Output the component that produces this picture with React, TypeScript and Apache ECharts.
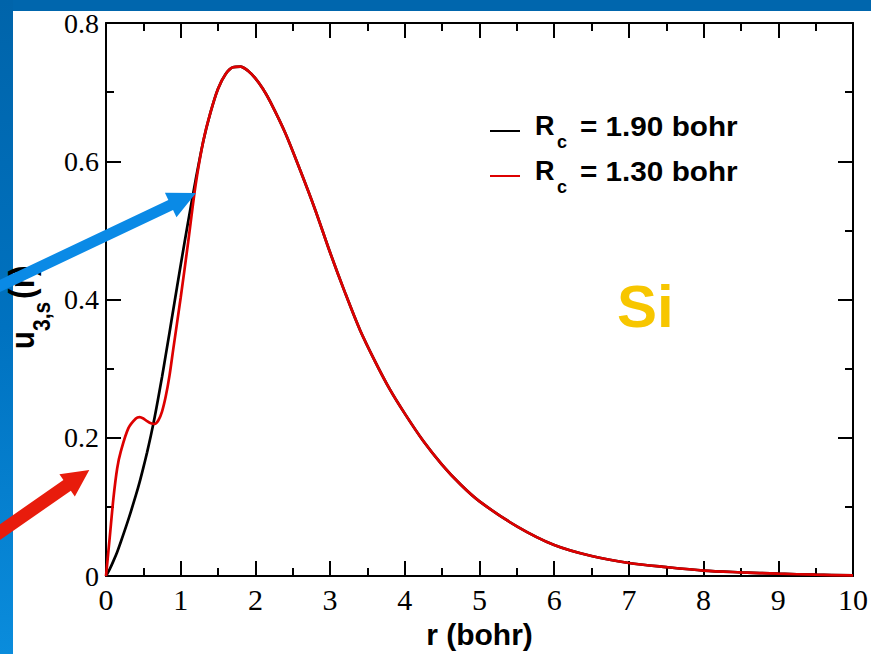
import React, { useEffect, useRef } from "react";
import * as echarts from "echarts";

// Radial grid (bohr) where the two pseudo-wavefunctions differ
const R_CORE = [0, 0.05, 0.1, 0.15, 0.2, 0.3, 0.4, 0.45, 0.5, 0.55, 0.6, 0.65, 0.7, 0.75, 0.8, 0.85, 0.9, 1.0, 1.1, 1.2];
// u_3s(r) inside the core, Rc = 1.90 bohr
const U_CORE_RC190 = [0, 0.010, 0.022, 0.035, 0.050, 0.082, 0.117, 0.136, 0.157, 0.179, 0.203, 0.229, 0.258, 0.288, 0.320, 0.352, 0.385, 0.450, 0.513, 0.573];
// u_3s(r) inside the core, Rc = 1.30 bohr
const U_CORE_RC130 = [0, 0.056, 0.113, 0.156, 0.181, 0.214, 0.228, 0.230, 0.228, 0.224, 0.221, 0.220, 0.225, 0.238, 0.260, 0.290, 0.328, 0.403, 0.483, 0.566];
// Shared tail, both curves coincide here
const R_TAIL = [1.3, 1.4, 1.5, 1.6, 1.7, 1.8, 1.9, 2.0, 2.1, 2.2, 2.4, 2.6, 2.8, 3.0, 3.2, 3.4, 3.6, 3.8, 4.0, 4.25, 4.5, 4.75, 5.0, 5.5, 6.0, 6.5, 7.0, 7.5, 8.0, 8.5, 9.0, 9.5, 10];
const U_TAIL = [0.628, 0.671, 0.705, 0.726, 0.736, 0.737, 0.731, 0.720, 0.705, 0.686, 0.641, 0.587, 0.530, 0.468, 0.410, 0.356, 0.311, 0.270, 0.235, 0.195, 0.161, 0.132, 0.108, 0.072, 0.045, 0.029, 0.019, 0.013, 0.008, 0.0055, 0.0035, 0.002, 0.001];

const SERIES = [
  { name: "Rc = 1.90 bohr", core: U_CORE_RC190, color: "#000000" },
  { name: "Rc = 1.30 bohr", core: U_CORE_RC130, color: "#dd0000" },
];

const X_MIN = 0, X_MAX = 10, X_STEP = 1;
const Y_MIN = 0, Y_MAX = 0.8, Y_STEP = 0.2;

const SANS = "'Liberation Sans', Arial, sans-serif";
const SERIF = "'Liberation Serif', 'Times New Roman', serif";

function toPoints(core: number[]): number[][] {
  const pts: number[][] = R_CORE.map((r, i) => [r, core[i]]);
  R_TAIL.forEach((r, i) => pts.push([r, U_TAIL[i]]));
  return pts;
}

// Block arrow outline: shaft of given width plus triangular head
function arrowPoints(tail: number[], tip: number[], shaft: number, headLen: number, headHalf: number) {
  const dx = tip[0] - tail[0];
  const dy = tip[1] - tail[1];
  const len = Math.hypot(dx, dy);
  const ux = dx / len, uy = dy / len;
  const nx = -uy, ny = ux;
  const bx = tip[0] - ux * headLen, by = tip[1] - uy * headLen;
  const h = shaft / 2;
  return [
    [tail[0] + nx * h, tail[1] + ny * h],
    [bx + nx * h, by + ny * h],
    [bx + nx * headHalf, by + ny * headHalf],
    [tip[0], tip[1]],
    [bx - nx * headHalf, by - ny * headHalf],
    [bx - nx * h, by - ny * h],
    [tail[0] - nx * h, tail[1] - ny * h],
  ];
}

function txt(x: number, y: number, text: string, size: number, fill: string, extra: any = {}, styleExtra: any = {}) {
  return {
    type: "text",
    x,
    y,
    z: 50,
    ...extra,
    style: {
      text,
      fill,
      fontSize: size,
      fontWeight: "bold",
      fontFamily: SANS,
      align: "left",
      verticalAlign: "middle",
      textAlign: "left",
      textVerticalAlign: "middle",
      ...styleExtra,
    },
  };
}

export default function App() {
  const ref = useRef<HTMLDivElement>(null);

  useEffect(() => {
    const chart = echarts.init(ref.current!, null, { renderer: "svg" });

    const axisLine = { show: true, onZero: false, lineStyle: { color: "#000", width: 2 } };
    const tick = { show: true, inside: true, length: 15, lineStyle: { color: "#000", width: 2 } };
    const minor = { show: true, splitNumber: 2, length: 8, lineStyle: { color: "#000", width: 2 } };

    const xBase = {
      type: "value",
      min: X_MIN,
      max: X_MAX,
      interval: X_STEP,
      axisLine,
      axisTick: tick,
      minorTick: minor,
      splitLine: { show: false },
    };
    const yBase = {
      type: "value",
      min: Y_MIN,
      max: Y_MAX,
      interval: Y_STEP,
      axisLine,
      axisTick: tick,
      minorTick: minor,
      splitLine: { show: false },
    };

    const legendRows = SERIES.map((s, i) => {
      const cy = 126 + i * 45;
      return [
        { type: "line", z: 50, shape: { x1: 490, y1: cy + 5, x2: 520, y2: cy + 5 }, style: { stroke: s.color, lineWidth: 2 } },
        txt(535, cy, "R", 27, "#000"),
        txt(557, cy + 16, "c", 18, "#000"),
        txt(580, cy, s.name.replace("Rc ", ""), 27, "#000", { scaleX: 1.1 }),
      ];
    }).flat();

    const option: any = {
      animation: false,
      backgroundColor: "#ffffff",
      grid: { left: 106, top: 23, right: 14, bottom: 69, containLabel: false },
      xAxis: [
        {
          ...xBase,
          position: "bottom",
          name: "r (bohr)",
          nameLocation: "middle",
          nameGap: 36,
          nameTextStyle: { fontFamily: SANS, fontWeight: "bold", fontSize: 30, color: "#000" },
          axisLabel: { fontFamily: SERIF, fontSize: 30, color: "#000", margin: 8 },
        },
        { ...xBase, position: "top", axisLabel: { show: false } },
      ],
      yAxis: [
        {
          ...yBase,
          position: "left",
          axisLabel: { fontFamily: SERIF, fontSize: 28, color: "#000", margin: 7 },
        },
        { ...yBase, position: "right", axisLabel: { show: false } },
      ],
      series: SERIES.map((s) => ({
        name: s.name,
        type: "line",
        xAxisIndex: 0,
        yAxisIndex: 0,
        data: toPoints(s.core),
        showSymbol: false,
        smooth: 0.3,
        lineStyle: { color: s.color, width: 2.7 },
        itemStyle: { color: s.color },
      })),
      graphic: [
        // slide frame
        { type: "rect", z: 1, shape: { x: 0, y: 0, width: 871, height: 11 }, style: { fill: "#0066ad" } },
        {
          type: "rect",
          z: 1,
          shape: { x: 0, y: 0, width: 13, height: 654 },
          style: {
            fill: new echarts.graphic.LinearGradient(0, 0, 0, 1, [
              { offset: 0, color: "#0064aa" },
              { offset: 0.5, color: "#0072c0" },
              { offset: 1, color: "#0a8cdc" },
            ]),
          },
        },
        // y axis title u_{3,s}(r), rotated
        txt(23, 349, "u", 29, "#000", { rotation: Math.PI / 2, scaleY: 1.15 }),
        txt(41.5, 331, "3,s", 21, "#000", { rotation: Math.PI / 2, scaleY: 1.15 }),
        txt(22, 299, "(r)", 32, "#000", { rotation: Math.PI / 2, scaleY: 1.1 }),
        // element label
        txt(617, 306, "Si", 60, "#f7c600"),
        ...legendRows,
        // pointer arrows
        {
          type: "polygon",
          z: 60,
          shape: { points: arrowPoints([-10, 290.6], [196, 193], 11, 28, 13.5) },
          style: { fill: "#0a8ae6" },
        },
        {
          type: "polygon",
          z: 60,
          shape: { points: arrowPoints([-10, 539], [89.3, 470], 13, 27, 13.5) },
          style: { fill: "#e81c0c" },
        },
      ],
    };

    chart.setOption(option);
    return () => chart.dispose();
  }, []);

  return (
    <div
      ref={ref}
      style={{ position: "absolute", left: 0, top: 0, width: 871, height: 654, background: "#fff" }}
    />
  );
}
